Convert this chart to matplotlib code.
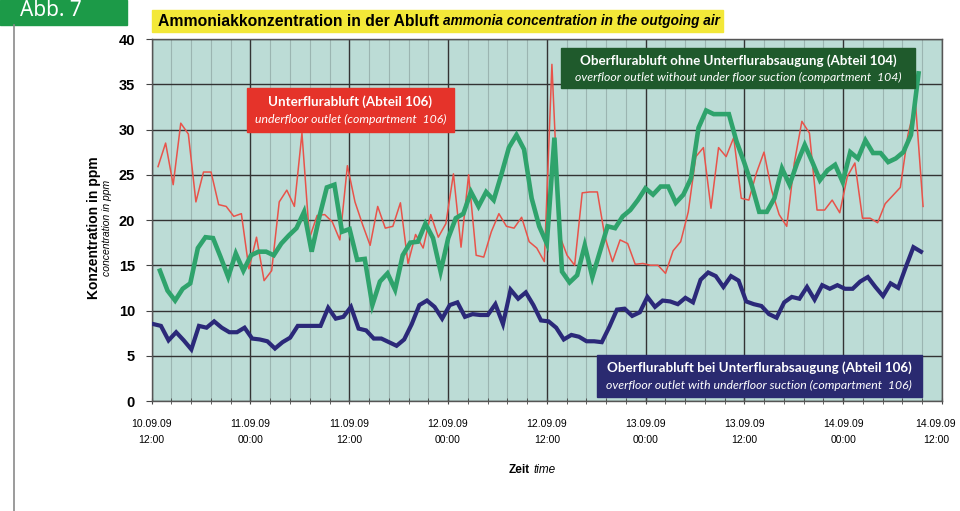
import numpy as np
import matplotlib
matplotlib.use("Agg")
import matplotlib.pyplot as plt
import matplotlib.transforms as mtransforms
from matplotlib.patches import Rectangle
from matplotlib.lines import Line2D

# hours after 10.09.09 12:00
t_red = np.linspace(0.77, 93.7, 102)
t_green = np.linspace(1.0, 93.15, 101)
t_blue = np.linspace(0.2, 93.45, 102)

# Unterflurabluft (Abteil 106)
red = [25.9, 28.5, 23.9, 30.7, 29.5, 22.0, 25.3, 25.3, 21.7, 21.5,
       20.4, 20.7, 14.6, 18.1, 13.3, 14.4, 22.0, 23.3, 21.5, 29.6,
       18.0, 20.5, 20.6, 19.8, 17.8, 26.0, 22.0, 19.5, 17.2, 21.5,
       19.1, 19.3, 21.9, 15.2, 18.4, 16.9, 20.6, 18.1, 19.6, 25.1,
       17.0, 25.0, 16.1, 15.9, 18.7, 20.7, 19.3, 19.1, 20.3, 17.6,
       16.9, 15.4, 37.2, 18.3, 16.1, 15.0, 23.0, 23.1, 23.1, 18.1,
       15.4, 17.8, 17.4, 15.1, 15.2, 15.0, 15.0, 14.1, 16.6, 17.6,
       20.9, 27.0, 28.0, 21.3, 28.0, 27.0, 29.1, 22.4, 22.2, 25.2,
       27.5, 23.3, 20.6, 19.3, 26.3, 30.9, 29.6, 21.1, 21.1, 22.2,
       20.8, 24.8, 26.3, 20.2, 20.2, 19.7, 21.8, 22.7, 23.6, 29.4,
       32.9, 21.5]

# Oberflurabluft ohne Unterflurabsaugung (Abteil 104)
green = [14.4, 12.2, 11.1, 12.4, 13.0, 16.9, 18.1, 18.0, 15.9, 13.7,
         16.3, 14.4, 16.1, 16.5, 16.5, 16.1, 17.4, 18.3, 19.1, 20.9,
         16.5, 20.3, 23.6, 23.9, 18.7, 19.0, 15.6, 15.7, 10.6, 13.2,
         14.1, 12.3, 16.1, 17.5, 17.6, 19.6, 18.0, 14.3, 18.0, 20.2,
         20.7, 23.1, 21.5, 23.1, 22.2, 25.0, 28.0, 29.4, 27.8, 22.4,
         19.3, 17.4, 29.1, 14.3, 13.1, 13.9, 17.2, 13.7, 16.5, 19.3,
         19.1, 20.4, 21.1, 22.2, 23.5, 22.8, 23.7, 23.7, 21.9, 22.8,
         24.6, 30.2, 32.1, 31.7, 31.7, 31.7, 28.7, 26.4, 23.9, 20.9,
         20.9, 22.4, 25.7, 23.9, 26.3, 28.3, 26.4, 24.4, 25.5, 26.1,
         24.2, 27.5, 26.8, 28.8, 27.4, 27.4, 26.4, 26.8, 27.5, 29.4,
         36.2]

# Oberflurabluft bei Unterflurabsaugung (Abteil 106)
blue = [8.5, 8.3, 6.7, 7.6, 6.7, 5.7, 8.3, 8.1, 8.8, 8.1,
        7.6, 7.6, 8.1, 6.9, 6.8, 6.6, 5.8, 6.5, 7.0, 8.3,
        8.3, 8.3, 8.3, 10.3, 9.1, 9.3, 10.4, 8.0, 7.8, 6.9,
        6.9, 6.5, 6.1, 6.8, 8.5, 10.6, 11.1, 10.4, 9.1, 10.6,
        10.9, 9.3, 9.6, 9.5, 9.5, 10.7, 8.5, 12.3, 11.3, 12.0,
        10.6, 8.9, 8.8, 8.1, 6.8, 7.3, 7.1, 6.6, 6.6, 6.5,
        8.2, 10.1, 10.2, 9.4, 9.8, 11.5, 10.4, 11.1, 11.0, 10.7,
        11.4, 10.9, 13.4, 14.2, 13.8, 12.6, 13.8, 13.3, 11.0, 10.7,
        10.5, 9.6, 9.2, 10.9, 11.5, 11.3, 12.6, 11.2, 12.8, 12.4,
        12.8, 12.4, 12.4, 13.2, 13.7, 12.6, 11.6, 13.0, 12.5, 14.8,
        17.0, 16.5]

xtick_labels = ["10.09.09\n12:00", "11.09.09\n00:00", "11.09.09\n12:00",
                "12.09.09\n00:00", "12.09.09\n12:00", "13.09.09\n00:00",
                "13.09.09\n12:00", "14.09.09\n00:00", "14.09.09\n12:00"]

W, H = 960, 511
fig = plt.figure(figsize=(9.6, 5.11), dpi=100)


def fx(x):
    return x / W


def fy(y):
    return 1 - y / H


ax = fig.add_axes([fx(151.7), fy(401), (942 - 151.7) / W, (401 - 39) / H])
ax.set_facecolor("#bcdcd6")
ax.plot(t_red, red, color="#e8534a", lw=1.1, zorder=3)
ax.plot(t_green, green, color="#2fa36c", lw=3.3, zorder=4, solid_joinstyle="miter")
ax.plot(t_blue, blue, color="#2b2979", lw=3.0, zorder=5, solid_joinstyle="miter")

ax.set_xlim(0, 96)
ax.set_ylim(0, 40)
ax.set_xticks(np.arange(0, 97, 12))
ax.set_xticks(np.arange(0, 96.1, 2.4), minor=True)
ax.set_yticks(np.arange(0, 41, 5))
ax.set_xticklabels(xtick_labels, fontsize=7.5, linespacing=1.8,
                   family=["Liberation Sans Narrow", "Liberation Sans"])
ax.set_yticklabels([str(v) for v in range(0, 41, 5)], fontsize=10.5,
                   fontweight="bold", family="Liberation Sans")
ax.tick_params(axis="x", which="both", direction="inout", length=4, pad=11, color="#444")
ax.tick_params(axis="y", length=4, pad=8, color="#444")
ax.grid(which="major", axis="both", color="#333333", lw=1.0, zorder=1)
ax.grid(which="minor", axis="x", color="#9bb5b1", lw=0.8, zorder=0.5)
ax.set_axisbelow(True)
for s in ax.spines.values():
    s.set_color("#555555")
    s.set_linewidth(1.0)

# keep the last date label inside the picture
last = ax.get_xticklabels()[-1]
last.set_transform(last.get_transform() +
                   mtransforms.ScaledTranslation(-6 / 100, 0, fig.dpi_scale_trans))

# axis titles
fig.text(fx(94), fy(228), "Konzentration in ppm", rotation=90, ha="center", va="center",
         fontsize=10, fontweight="bold", family="Liberation Sans")
fig.text(fx(107), fy(228), "concentration in ppm", rotation=90, ha="center", va="center",
         fontsize=7.5, style="italic", family="Liberation Sans")
fig.text(fx(530), fy(470), "Zeit", ha="right", va="center", fontsize=8.5,
         fontweight="bold", family="Liberation Sans")
fig.text(fx(533), fy(470), "time", ha="left", va="center", fontsize=8.5,
         style="italic", family="Liberation Sans")

# figure tag and frame
fig.patches.append(Rectangle((0, fy(25)), fx(127), 25 / H, transform=fig.transFigure,
                             color="#1c9a48", zorder=1))
fig.text(fx(20), fy(10), "Abb. 7", ha="left", va="center", color="white",
         fontsize=15, family="Noto Sans", zorder=3)
fig.lines.append(Line2D([fx(14), fx(14)], [fy(25), 0], transform=fig.transFigure,
                        color="#8a8a8a", lw=1.2))

# title on yellow band
fig.patches.append(Rectangle((fx(152), fy(32)), (723 - 152) / W, 22 / H,
                             transform=fig.transFigure, color="#f3e838", zorder=1))
t1 = fig.text(fx(158), fy(21), "Ammoniakkonzentration in der Abluft", ha="left", va="center",
              fontsize=11.3, fontweight="bold", family="Liberation Sans", zorder=3)
fig.canvas.draw()
bb = t1.get_window_extent()
fig.text(bb.x1 / W + fx(4), fy(21.5), "ammonia concentration in the outgoing air", ha="left",
         va="center", fontsize=9.8, style="italic", fontweight="bold",
         family="Liberation Sans", zorder=3)

# series captions
boxes = [
    ((246.7, 88.3, 454.3, 131.7), "#e5332a", "Unterflurabluft (Abteil 106)",
     "underfloor outlet (compartment  106)"),
    ((560.7, 48.3, 915, 88.3), "#1f5a2c", "Oberflurabluft ohne Unterflurabsaugung (Abteil 104)",
     "overfloor outlet without under floor suction (compartment  104)"),
    ((596.7, 355, 922, 396.7), "#2a2a70", "Oberflurabluft bei Unterflurabsaugung (Abteil 106)",
     "overfloor outlet with underfloor suction (compartment  106)"),
]
for (x0, y0, x1, y1), col, bold, ital in boxes:
    fig.patches.append(Rectangle((fx(x0), fy(y1)), (x1 - x0) / W, (y1 - y0) / H,
                                 transform=fig.transFigure, color=col, zorder=1))
    xc = (x0 + x1) / 2
    hgt = y1 - y0
    fig.text(fx(xc), fy(y0 + hgt * 0.3), bold, ha="center", va="center", color="white",
             fontsize=9.6, fontweight="bold", family="Lato", zorder=3)
    fig.text(fx(xc), fy(y0 + hgt * 0.72), ital, ha="center", va="center", color="white",
             fontsize=8.8, style="italic", family="Lato", zorder=3)

fig.savefig("out.png", dpi=100)
